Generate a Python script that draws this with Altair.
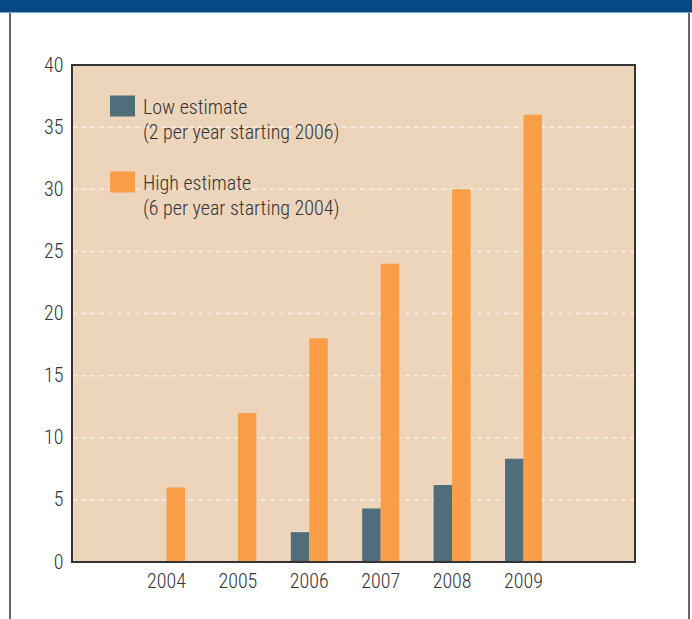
import altair as alt
import pandas as pd

years = ["2004", "2005", "2006", "2007", "2008", "2009"]
low_values = [0, 0, 2.4, 4.3, 6.2, 8.3]
high_values = [6, 12, 18, 24, 30, 36]
series_names = ["Low estimate", "High estimate"]
series_notes = ["(2 per year starting 2006)", "(6 per year starting 2004)"]
series_colors = ["#4F6D7A", "#F99D46"]
y_ticks = [0, 5, 10, 15, 20, 25, 30, 35, 40]
grid_values = [5, 10, 15, 20, 25, 30, 35]

rows = []
for i, yr in enumerate(years):
    rows.append({"year": yr, "series": series_names[0], "value": low_values[i]})
    rows.append({"year": yr, "series": series_names[1], "value": high_values[i]})
df = pd.DataFrame(rows)
grid_df = pd.DataFrame({"value": grid_values})
one = pd.DataFrame({"k": [0]})

W, H = 563, 497
PAD = {"left": 72, "top": 65, "right": 57, "bottom": 57}
FONT = "Liberation Sans Narrow, Roboto Condensed, Liberation Sans, sans-serif"
TXT = "#333333"
FW = 300

label_expr = (
    f"datum.label == '{series_names[0]}' ? ['{series_names[0]}', '{series_notes[0]}'] : "
    f"['{series_names[1]}', '{series_notes[1]}']"
)

y_scale = alt.Scale(domain=[0, 40], nice=False)

grid = alt.Chart(grid_df).mark_rule(color="#F8EFE6", strokeWidth=1.5, strokeDash=[5, 4]).encode(
    y=alt.Y("value:Q", scale=y_scale, title=None),
    x=alt.value(0), x2=alt.value(W),
)

bars = alt.Chart(df).mark_bar().encode(
    x=alt.X(
        "year:N", sort=years, title=None,
        scale=alt.Scale(paddingInner=0.482, paddingOuter=0, range=[76, 470]),
        axis=alt.Axis(labelAngle=0, labelFont=FONT, labelFontSize=20, labelColor=TXT,
                      labelFontWeight=FW, labelPadding=9, ticks=False, domain=False, grid=False),
    ),
    xOffset=alt.XOffset("series:N", sort=series_names),
    y=alt.Y(
        "value:Q", title=None, scale=y_scale,
        axis=alt.Axis(values=y_ticks, labelFont=FONT, labelFontSize=20, labelColor=TXT,
                      labelFontWeight=FW, labelPadding=9, ticks=False, domain=False, grid=False),
    ),
    color=alt.Color(
        "series:N", sort=series_names,
        scale=alt.Scale(domain=series_names, range=series_colors),
        legend=alt.Legend(
            title=None, orient="none", legendX=38, legendY=30, direction="vertical",
            symbolType="M-1,-0.96H1V0.72H-1Z", symbolSize=625, symbolStrokeWidth=0,
            symbolOpacity=1, labelExpr=label_expr, labelFont=FONT, labelFontSize=20,
            labelFontWeight=FW, labelColor=TXT, labelOffset=8, rowPadding=28,
            padding=0, labelLimit=0, labelBaseline="middle",
        ),
    ),
)

border = alt.Chart(one).mark_rect(fill="transparent", stroke="#333333", strokeWidth=2).encode(
    x=alt.value(0), x2=alt.value(W), y=alt.value(0), y2=alt.value(H)
)
band = alt.Chart(one).mark_rect(color="#034B82").encode(
    x=alt.value(-PAD["left"]), x2=alt.value(W + PAD["right"]),
    y=alt.value(-PAD["top"]), y2=alt.value(-PAD["top"] + 12)
)
band_line = alt.Chart(one).mark_rule(color="#7FA3C4", strokeWidth=1).encode(
    x=alt.value(-PAD["left"]), x2=alt.value(W + PAD["right"]),
    y=alt.value(-PAD["top"] + 12.5)
)
frame_l = alt.Chart(one).mark_rule(color="#333333", strokeWidth=1.5).encode(
    x=alt.value(-62), y=alt.value(-PAD["top"] + 13), y2=alt.value(H + PAD["bottom"])
)
frame_r = alt.Chart(one).mark_rule(color="#333333", strokeWidth=1.5).encode(
    x=alt.value(617), y=alt.value(-PAD["top"] + 13), y2=alt.value(H + PAD["bottom"])
)

chart = alt.layer(grid, bars, border, band, band_line, frame_l, frame_r).properties(
    width=W, height=H, padding=PAD,
    autosize=alt.AutoSizeParams(type="none"),
).configure(
    background="white",
    style={"guide-label": {"lineHeight": 25}},
    view=alt.ViewConfig(stroke="transparent", fill="#EDD5BC"),
)

chart.save("out.html", embed_options={"renderer": "svg", "actions": False})
